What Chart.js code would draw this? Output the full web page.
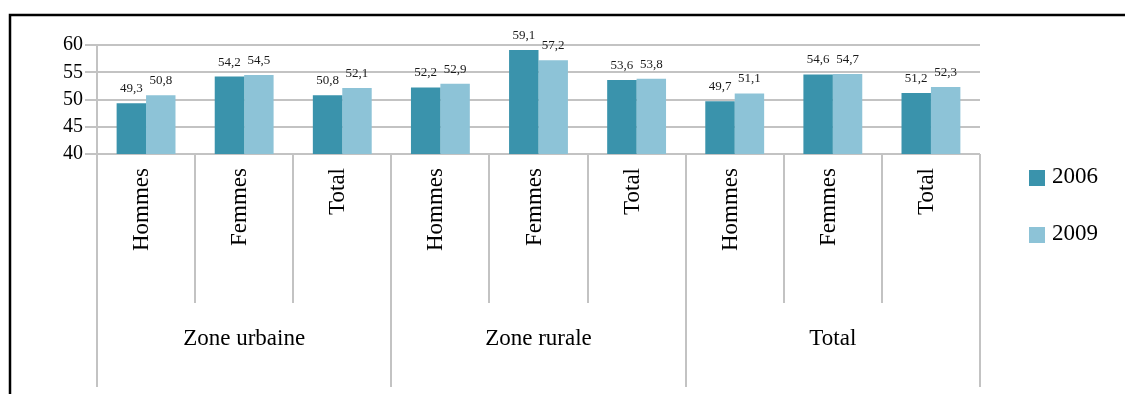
<!DOCTYPE html>
<html>
<head>
<meta charset="utf-8">
<script src="https://cdn.jsdelivr.net/npm/chart.js@4/dist/chart.umd.min.js"></script>
<style>
  html, body { margin: 0; padding: 0; background: #fff; }
  canvas { display: block; }
</style>
</head>
<body>
<canvas id="chart" width="1125" height="394"></canvas>
<script>
// Sub-categories along the x axis, grouped by zone
const categories = ['Hommes', 'Femmes', 'Total', 'Hommes', 'Femmes', 'Total', 'Hommes', 'Femmes', 'Total'];
const groups = ['Zone urbaine', 'Zone rurale', 'Total'];
const groupSize = 3;

// Values per year
const values2006 = [49.3, 54.2, 50.8, 52.2, 59.1, 53.6, 49.7, 54.6, 51.2];
const values2009 = [50.8, 54.5, 52.1, 52.9, 57.2, 53.8, 51.1, 54.7, 52.3];
const seriesNames = ['2006', '2009'];

// Y axis range and ticks
const yMin = 40;
const yMax = 60;
const yStep = 5;

const SERIF = '"Liberation Serif", "Times New Roman", serif';
const GRID = '#c3c3c3';
const COLORS = ['#3a93ac', '#8dc3d7'];

const fmt = v => v.toFixed(1).replace('.', ',');

// Frame, value labels, category labels, separators and legend
const decorations = {
  id: 'decorations',
  beforeDraw(chart) {
    const ctx = chart.ctx;
    ctx.save();
    ctx.fillStyle = '#fff';
    ctx.fillRect(0, 0, chart.width, chart.height);
    ctx.strokeStyle = '#000';
    ctx.lineWidth = 2.5;
    ctx.beginPath();
    ctx.moveTo(10, chart.height);
    ctx.lineTo(10, 15);
    ctx.lineTo(chart.width, 15);
    ctx.stroke();
    ctx.restore();
  },
  afterDatasetsDraw(chart) {
    const ctx = chart.ctx;
    const area = chart.chartArea;
    const xs = chart.scales.x;
    ctx.save();

    // value labels above each bar
    ctx.font = '13px ' + SERIF;
    ctx.fillStyle = '#1a1a1a';
    ctx.textAlign = 'center';
    ctx.textBaseline = 'bottom';
    chart.data.datasets.forEach((ds, di) => {
      chart.getDatasetMeta(di).data.forEach((bar, i) => {
        ctx.fillText(fmt(ds.data[i]), bar.x, bar.y - 8);
      });
    });

    // separators below the axis
    const n = categories.length;
    const boundary = i => {
      if (i === 0) return area.left;
      if (i === n) return area.right;
      return (xs.getPixelForValue(i - 1) + xs.getPixelForValue(i)) / 2;
    };
    ctx.strokeStyle = GRID;
    ctx.lineWidth = 2;
    for (let i = 0; i <= n; i++) {
      const x = Math.round(boundary(i));
      const bottom = (i % groupSize === 0) ? 387 : 303;
      ctx.beginPath();
      ctx.moveTo(x, area.bottom);
      ctx.lineTo(x, bottom);
      ctx.stroke();
    }

    // rotated sub-category labels
    ctx.fillStyle = '#000';
    ctx.font = '23px ' + SERIF;
    ctx.textAlign = 'right';
    ctx.textBaseline = 'middle';
    categories.forEach((c, i) => {
      const x = xs.getPixelForValue(i) - 4;
      ctx.save();
      ctx.translate(x, area.bottom + 14);
      ctx.rotate(-Math.PI / 2);
      ctx.fillText(c, 0, 0);
      ctx.restore();
    });

    // group labels
    ctx.textAlign = 'center';
    ctx.textBaseline = 'middle';
    groups.forEach((g, gi) => {
      const x = (boundary(gi * groupSize) + boundary((gi + 1) * groupSize)) / 2;
      ctx.fillText(g, x, 339);
    });

    // legend
    ctx.font = '23px ' + SERIF;
    ctx.textAlign = 'left';
    seriesNames.forEach((name, i) => {
      const y = 178 + i * 57;
      ctx.fillStyle = COLORS[i];
      ctx.fillRect(1029, y - 8, 16, 16);
      ctx.fillStyle = '#000';
      ctx.fillText(name, 1052, y - 1);
    });

    ctx.restore();
  }
};

new Chart(document.getElementById('chart'), {
  type: 'bar',
  data: {
    labels: categories,
    datasets: [
      { label: seriesNames[0], data: values2006, backgroundColor: COLORS[0] },
      { label: seriesNames[1], data: values2009, backgroundColor: COLORS[1] }
    ]
  },
  options: {
    responsive: false,
    animation: false,
    layout: { padding: { left: 0, top: 45, right: 145, bottom: 240 } },
    datasets: { bar: { categoryPercentage: 0.6, barPercentage: 1.0 } },
    plugins: { legend: { display: false }, tooltip: { enabled: false } },
    scales: {
      x: { display: false },
      y: {
        min: yMin,
        max: yMax,
        afterFit(scale) { scale.width = 97; },
        ticks: {
          stepSize: yStep,
          padding: 2,
          color: '#000',
          font: { family: SERIF, size: 20 }
        },
        grid: { color: GRID, lineWidth: 2, tickLength: 12 },
        border: { display: true, color: GRID, width: 2 }
      }
    }
  },
  plugins: [decorations]
});
</script>
</body>
</html>
